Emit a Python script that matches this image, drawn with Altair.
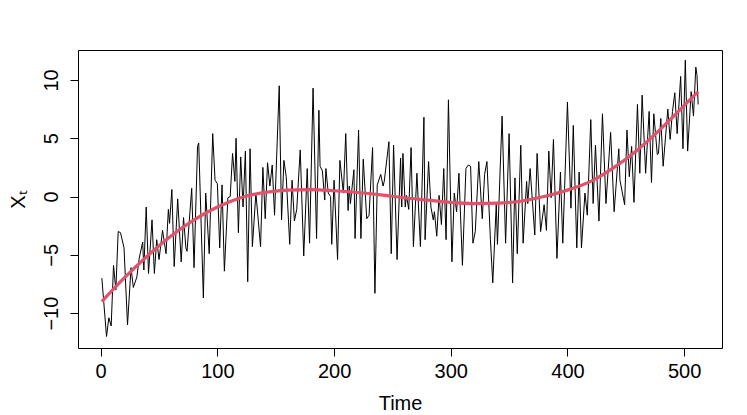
import altair as alt
import pandas as pd

time_a = [1, 5, 7, 9, 11, 13, 15, 17, 20, 23, 26, 28, 31, 33, 36, 37, 39, 41, 44, 46,
          48, 50, 53, 56, 58, 59, 61, 63, 66, 69, 71, 73, 74, 78, 80, 83, 84]
value_a = [-7.0, -12.0, -10.4, -11.1, -5.9, -8.0, -3.0, -3.1, -4.4, -11.0, -6.1, -7.8, -6.9, -5.3, -3.9, -6.3, -0.9, -6.6, -2.0, -6.6,
           -3.7, -5.4, -2.9, -4.9, -1.1, -2.3, 0.6, -6.0, -0.2, -5.6, -1.8, -4.4, -4.7, 0.7, -6.1, 4.3, 4.6]

time_b = [88, 90, 93, 96, 98, 100, 102, 104, 106, 109, 111, 113, 115, 116, 118, 120, 122, 124, 126, 128,
          130, 133, 135, 137, 139, 141, 143, 145, 147, 149, 153, 155, 157, 159, 162, 164, 166, 168, 171]
value_b = [-8.7, 0.3, -4.9, 5.4, 1.4, 1.1, -4.4, 1.0, -6.4, -0.1, 0.0, 3.7, 1.3, 5.0, -3.1, 3.4, -0.9, 3.9, -7.3, 4.1,
           -4.3, 0.3, -2.0, -4.3, 2.5, -1.9, 2.9, 0.9, 2.7, -1.6, 9.5, -2.0, 3.1, 1.7, -4.1, 1.4, -2.1, -1.1, 4.0]

time_c = [174, 177, 179, 182, 185, 187, 188, 190, 192, 193, 195, 197, 198, 200, 203, 205, 208, 210, 212, 213,
          214, 217, 218, 221, 223, 225, 228, 230, 233, 235, 237, 240, 242, 243, 247, 249, 251, 254]
value_c = [-5.1, 2.4, -4.0, 9.3, -3.6, 7.4, 2.6, 2.2, -0.3, 2.4, 0.3, 0.0, -4.1, 1.4, -5.4, 3.1, 0.3, 5.4, -1.2, 0.9,
           -0.6, 2.3, -3.6, 5.7, -3.6, 3.2, -1.9, -1.6, 4.2, -8.3, 1.0, 1.9, 0.9, 1.3, 4.7, -4.9, 4.4, -5.4]

time_d = [257, 258, 259, 261, 262, 264, 266, 268, 271, 274, 277, 278, 281, 283, 285, 286, 288, 290, 292, 294,
          296, 298, 301, 303, 305, 307, 310, 313, 315, 317, 319, 321, 324, 327, 329, 331, 334, 336, 339, 340]
value_d = [3.3, -0.9, 3.7, -0.9, 0.1, -1.1, 4.2, -4.3, 2.0, -4.3, 6.8, -3.7, 3.0, -0.9, -2.0, -1.3, -3.4, 0.1, -2.4, 2.4,
           -3.7, 8.3, -5.6, 0.3, -1.3, 2.0, -5.9, 2.4, 2.7, 2.6, -4.0, -3.0, 3.0, -1.9, 1.9, 3.0, -3.7, -7.4, -0.6, -4.1]

time_e = [344, 347, 350, 353, 355, 357, 360, 362, 365, 366, 368, 372, 374, 377, 380, 382, 384, 386, 388, 391,
          394, 396, 400, 403, 405, 408, 410, 412, 415, 417, 420, 422, 424]
value_e = [6.9, -4.0, 5.4, -7.4, 1.6, -4.9, 4.4, -4.0, 1.3, -0.6, 2.4, -3.3, 3.7, -3.0, -0.7, -2.9, 3.9, -0.1, 4.9, -5.3,
           2.1, -4.0, 8.1, -1.0, 6.1, -4.4, 2.1, -4.4, 0.3, -1.6, 6.6, -0.6, 4.4]

time_f = [427, 430, 433, 437, 440, 444, 445, 449, 451, 453, 455, 457, 460, 462, 464, 467, 470, 472, 474, 477,
          478, 480, 482, 486, 488, 490, 492, 494, 497, 499, 501, 503, 506, 508, 510, 511, 512]
value_f = [-2.1, 7.1, -0.6, 5.5, -1.3, 4.1, 1.4, -0.7, 5.7, 1.7, 4.3, -0.5, 7.9, 2.0, 8.7, 2.0, 7.3, 1.2, 7.1, 3.6,
           3.7, 6.7, 2.6, 7.5, 4.9, 7.3, 8.9, 5.4, 10.3, 4.1, 11.7, 3.9, 9.0, 6.9, 11.1, 10.4, 7.9]

# ---- fitted trend (red curve) ----
trend_time = [1, 20, 40, 60, 80, 100, 120, 140, 160, 180, 200, 220, 240, 260,
              280, 300, 320, 340, 360, 380, 400, 420, 440, 460, 480, 500, 512]
trend_value = [-9.0, -7.0, -5.1, -3.4, -2.0, -0.9, -0.1, 0.35, 0.55, 0.6, 0.5, 0.35, 0.15, -0.1,
               -0.3, -0.5, -0.6, -0.57, -0.4, 0.0, 0.55, 1.3, 2.5, 4.0, 5.8, 7.8, 9.0]

x_ticks = [0, 100, 200, 300, 400, 500]
y_ticks = [-10, -5, 0, 5, 10]

series = pd.DataFrame({
    "Time": time_a + time_b + time_c + time_d + time_e + time_f,
    "X": value_a + value_b + value_c + value_d + value_e + value_f,
})
trend = pd.DataFrame({"Time": trend_time, "X": trend_value})

FONT = "Liberation Sans"
xs = alt.Scale(domain=[-19.44, 532.44], nice=False, zero=False)
ys = alt.Scale(domain=[-12.99, 12.57], nice=False, zero=False)

x_enc = alt.X("Time:Q", scale=xs, axis=alt.Axis(
    values=x_ticks, title="Time", tickSize=8, labelPadding=5, titlePadding=12,
    format="d"))
y_enc = alt.Y("X:Q", scale=ys, axis=alt.Axis(
    values=y_ticks, title="Xₜ", tickSize=8, labelPadding=9, titlePadding=13,
    labelAngle=270, labelAlign="center", labelBaseline="bottom", format="d"))

line = alt.Chart(series).mark_line(color="black", strokeWidth=1).encode(
    x=x_enc, y=y_enc, order="Time:Q")
curve = alt.Chart(trend).mark_line(color="#DF536B", strokeWidth=3.2, interpolate="monotone").encode(
    x=alt.X("Time:Q", scale=xs), y=alt.Y("X:Q", scale=ys))

chart = alt.layer(line, curve).properties(
    width=644, height=298,
    autosize=alt.AutoSizeParams(type="none"),
    padding={"left": 70, "top": 42, "right": 17, "bottom": 66},
    background="white",
).configure_view(
    stroke="black", strokeWidth=1
).configure_axis(
    domain=False, grid=False, tickColor="black", tickWidth=1,
    labelColor="black", titleColor="black",
    labelFont=FONT, titleFont=FONT, labelFontSize=20, titleFontSize=20,
    titleFontWeight="normal",
)

chart.save("out.html", embed_options={"renderer": "svg", "actions": False})
